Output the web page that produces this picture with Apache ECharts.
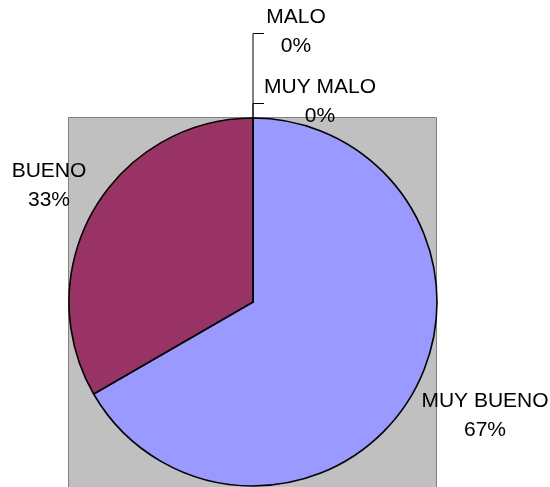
<!DOCTYPE html>
<html>
<head>
<meta charset="utf-8">
<script src="https://cdn.jsdelivr.net/npm/echarts@6/dist/echarts.min.js"></script>
<style>
  html, body { margin: 0; padding: 0; background: #fff; }
  #pie { width: 550px; height: 487px; }
</style>
</head>
<body>
<div id="pie"></div>
<script>
var categories = ['MUY BUENO', 'BUENO', 'MALO', 'MUY MALO']
var values = [2, 1, 0, 0]
var colors = ['#9999FF', '#993366', '#FFFFCC', '#CCFFFF']

// where each label block sits (centre), and the leader lines for the 0% ones
var labelPos = [
  { x: 485, y: 416 },
  { x: 49, y: 186 },
  { x: 296, y: 32 },
  { x: 320, y: 102 }
]
var leaderLines = [
  null,
  null,
  [[253, 118], [253, 33.5], [264, 33.5]],
  [[253, 118], [253, 103.5], [264, 103.5]]
]

var myChart = echarts.init(document.getElementById('pie'))

var pieData = categories.map(function(name, i) {
  return {
    name: name,
    value: values[i],
    itemStyle: { color: colors[i] },
    labelLine: { show: !!leaderLines[i] }
  }
})

var option = {
  animation: false,
  graphic: [
    {
      type: 'rect',
      z: -10,
      silent: true,
      shape: { x: 68.5, y: 117.5, width: 368, height: 380 },
      style: { fill: '#C0C0C0', stroke: '#808080', lineWidth: 1 }
    }
  ],
  series: [
    {
      type: 'pie',
      center: [253, 302],
      radius: 184,
      startAngle: 90,
      clockwise: true,
      avoidLabelOverlap: false,
      minShowLabelAngle: 0,
      itemStyle: { borderColor: '#000', borderWidth: 1.6 },
      label: {
        show: true,
        position: 'outside',
        color: '#000',
        fontFamily: 'Liberation Sans, Arial, sans-serif',
        fontSize: 21,
        lineHeight: 29,
        align: 'center',
        formatter: function(p) {
          return p.name + '\n' + Math.round(p.percent) + '%'
        }
      },
      labelLine: {
        lineStyle: { color: '#000', width: 1 }
      },
      labelLayout: function(params) {
        var i = params.dataIndex
        var res = {
          x: labelPos[i].x,
          y: labelPos[i].y,
          align: 'center',
          verticalAlign: 'middle'
        }
        if (leaderLines[i]) res.labelLinePoints = leaderLines[i]
        return res
      },
      emphasis: { disabled: true },
      data: pieData
    }
  ]
}

myChart.setOption(option)
window.onresize = function() {
  myChart.resize()
}
</script>
</body>
</html>
